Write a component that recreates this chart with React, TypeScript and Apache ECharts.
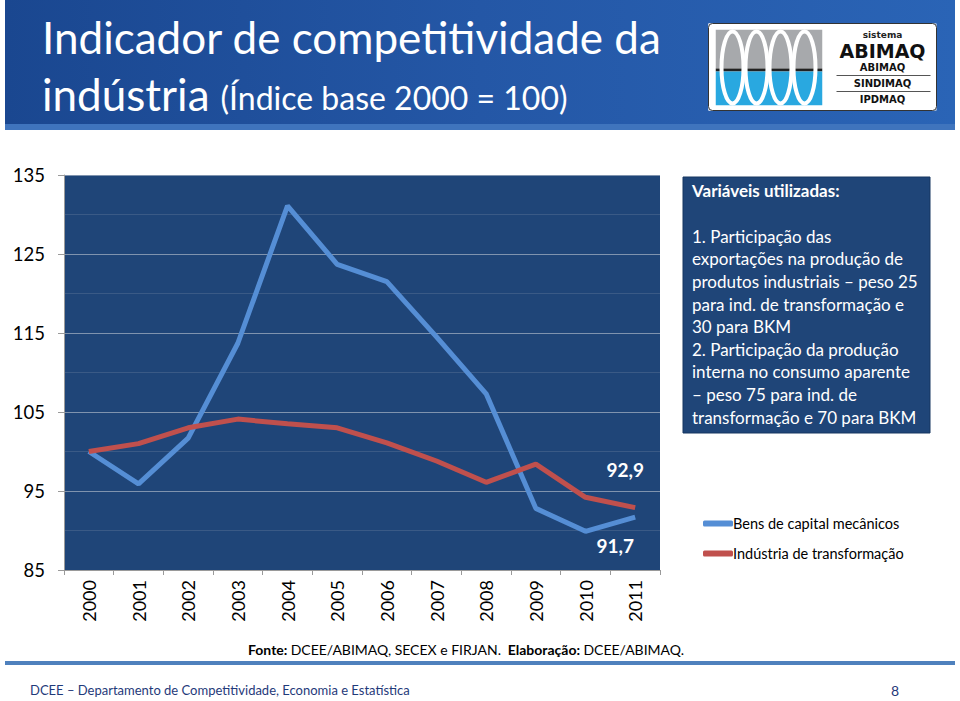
import React, { useEffect, useRef } from "react";
import * as echarts from "echarts";

const years = ["2000","2001","2002","2003","2004","2005","2006","2007","2008","2009","2010","2011"];
const bensCapital = [100, 95.9, 101.7, 113.7, 131.1, 123.7, 121.5, 114.5, 107.3, 92.8, 89.9, 91.7];
const industria = [100, 101, 103, 104.1, 103.5, 103, 101.1, 98.8, 96.1, 98.4, 94.2, 92.9];
const seriesNames = ["Bens de capital mecânicos", "Indústria de transformação"];
const endLabels = ["91,7", "92,9"];
const yTicks = [85, 95, 105, 115, 125, 135];
const boxLines = [
  "1. Participação das",
  "exportações na produção de",
  "produtos industriais – peso 25",
  "para ind. de transformação e",
  "30 para BKM",
  "2. Participação da produção",
  "interna no consumo aparente",
  "– peso 75 para ind. de",
  "transformação e 70 para BKM",
];

const FONT = "Lato, 'Open Sans', sans-serif";
const LOGO_FONT = "'DejaVu Sans', sans-serif";

export default function App() {
  const ref = useRef<HTMLDivElement>(null);
  useEffect(() => {
    document.body.style.margin = "0";
    const chart = echarts.init(ref.current!, null, { renderer: "svg" });
    const last = years.length - 1;
    const endLabelStyle = { color: "#fff", fontSize: 19, fontWeight: "bold", fontFamily: FONT };
    const option: any = {
      animation: false,
      backgroundColor: "#ffffff",
      textStyle: { fontFamily: FONT },
      grid: {
        left: 64, right: 300, top: 175, bottom: 131,
        show: true, backgroundColor: "#1F4578", borderWidth: 0,
      },
      legend: {
        orient: "vertical",
        left: 698, top: 511,
        itemWidth: 30, itemHeight: 6, itemGap: 15,
        icon: "roundRect",
        textStyle: { color: "#000", fontSize: 14.5, fontFamily: FONT, padding: [0, 0, 0, -5] },
        data: seriesNames,
      },
      xAxis: {
        type: "category",
        data: years,
        boundaryGap: true,
        axisLine: { lineStyle: { color: "#9a9a9a", width: 1 } },
        axisTick: { show: true, interval: 0, length: 5, lineStyle: { color: "#9a9a9a" } },
        axisLabel: { rotate: 90, color: "#000", fontSize: 18, margin: 10, interval: 0, fontFamily: FONT },
      },
      yAxis: {
        type: "value",
        min: 85, max: 135, interval: 10,
        axisLine: { show: true, lineStyle: { color: "#9a9a9a" } },
        axisTick: { show: true, length: 6, lineStyle: { color: "#9a9a9a" } },
        axisLabel: { color: "#000", fontSize: 18.5, margin: 19, fontFamily: FONT,
          formatter: (v: number) => (yTicks.includes(v) ? String(v) : "") },
        splitLine: { show: true, lineStyle: { color: "#7f93ae", width: 1 } },
        minorTick: { show: false, splitNumber: 2 },
        minorSplitLine: { show: true, lineStyle: { color: "#3a5a86", width: 1 } },
      },
      series: [
        {
          name: seriesNames[0],
          type: "line",
          data: bensCapital,
          showSymbol: false, symbol: "none",
          lineStyle: { color: "#558ED5", width: 5 },
          itemStyle: { color: "#558ED5" },
          z: 3,
          markPoint: {
            symbol: "circle", symbolSize: 1,
            itemStyle: { color: "rgba(0,0,0,0)" },
            label: { show: true, formatter: endLabels[0], position: "bottom", offset: [-20, 13], ...endLabelStyle },
            data: [{ coord: [years[last], bensCapital[last]] }],
          },
        },
        {
          name: seriesNames[1],
          type: "line",
          data: industria,
          showSymbol: false, symbol: "none",
          lineStyle: { color: "#C0504D", width: 5 },
          itemStyle: { color: "#C0504D" },
          z: 4,
          markPoint: {
            symbol: "circle", symbolSize: 1,
            itemStyle: { color: "rgba(0,0,0,0)" },
            label: { show: true, formatter: endLabels[1], position: "top", offset: [-10, -23], ...endLabelStyle },
            data: [{ coord: [years[last], industria[last]] }],
          },
        },
      ],
      graphic: [
        // header banner
        {
          type: "rect", z: -1,
          shape: { x: 5, y: 0, width: 950, height: 130 },
          style: {
            fill: new echarts.graphic.LinearGradient(0, 0, 1, 0, [
              { offset: 0, color: "#1a4790" },
              { offset: 0.5, color: "#2457a6" },
              { offset: 1, color: "#2a64b6" },
            ]),
          },
        },
        {
          type: "rect", z: -1,
          shape: { x: 5, y: 124, width: 950, height: 6 },
          style: { fill: "#3f74bd" },
        },
        {
          type: "text", left: 42, top: 15,
          style: { text: "Indicador de competitividade da", fill: "#fff", fontSize: 44, fontFamily: FONT },
        },
        {
          type: "text", left: 42, top: 72,
          style: {
            text: "{a|indústria}{b|(Índice base 2000 = 100)}",
            rich: {
              a: { fill: "#fff", fontSize: 44, fontFamily: FONT },
              b: { fill: "#fff", fontSize: 32, fontFamily: FONT, padding: [6, 0, 0, 11] },
            },
          },
        },
        // logo
        {
          type: "group", left: 706, top: 21,
          children: [
            { type: "rect", shape: { x: 0, y: 0, width: 228, height: 87, r: 4 }, style: { fill: "#fff" } },
            { type: "rect", shape: { x: 7, y: 6, width: 107, height: 39 }, style: { fill: "#a7a9ac" } },
            { type: "rect", shape: { x: 7, y: 45, width: 107, height: 3 }, style: { fill: "#222" } },
            { type: "rect", shape: { x: 7, y: 48, width: 107, height: 34 }, style: { fill: "#29a8e0" } },
            { type: "ellipse", shape: { cx: 24, cy: 44, rx: 11, ry: 36 }, style: { fill: "none", stroke: "#fff", lineWidth: 4 } },
            { type: "ellipse", shape: { cx: 48, cy: 44, rx: 11, ry: 36 }, style: { fill: "none", stroke: "#fff", lineWidth: 4 } },
            { type: "ellipse", shape: { cx: 72, cy: 44, rx: 11, ry: 36 }, style: { fill: "none", stroke: "#fff", lineWidth: 4 } },
            { type: "ellipse", shape: { cx: 96, cy: 44, rx: 11, ry: 36 }, style: { fill: "none", stroke: "#fff", lineWidth: 4 } },
            { type: "rect", shape: { x: 0, y: 0, width: 228, height: 6 }, style: { fill: "#fff" } },
            { type: "rect", shape: { x: 0, y: 82, width: 228, height: 5 }, style: { fill: "#fff" } },
            { type: "rect", shape: { x: 0, y: 0, width: 7, height: 87 }, style: { fill: "#fff" } },
            { type: "rect", shape: { x: 114, y: 0, width: 8, height: 87 }, style: { fill: "#fff" } },
            { type: "rect", shape: { x: 0, y: 0, width: 228, height: 87, r: 4 }, style: { fill: "none", stroke: "#333", lineWidth: 1 } },
            { type: "text", x: 174, y: 11, style: { text: "sistema", fill: "#222", fontSize: 9, fontWeight: "bold", align: "center", verticalAlign: "middle", fontFamily: LOGO_FONT } },
            { type: "text", x: 174, y: 27, style: { text: "ABIMAQ", fill: "#111", fontSize: 19, fontWeight: "bold", align: "center", verticalAlign: "middle", fontFamily: LOGO_FONT } },
            { type: "text", x: 174, y: 44, style: { text: "ABIMAQ", fill: "#111", fontSize: 10, fontWeight: "bold", align: "center", verticalAlign: "middle", fontFamily: LOGO_FONT } },
            { type: "line", shape: { x1: 128, y1: 52, x2: 222, y2: 52 }, style: { stroke: "#555", lineWidth: 1 } },
            { type: "text", x: 174, y: 60, style: { text: "SINDIMAQ", fill: "#111", fontSize: 10, fontWeight: "bold", align: "center", verticalAlign: "middle", fontFamily: LOGO_FONT } },
            { type: "line", shape: { x1: 128, y1: 68, x2: 222, y2: 68 }, style: { stroke: "#555", lineWidth: 1 } },
            { type: "text", x: 174, y: 76, style: { text: "IPDMAQ", fill: "#111", fontSize: 10, fontWeight: "bold", align: "center", verticalAlign: "middle", fontFamily: LOGO_FONT } },
          ],
        },
        // info box
        {
          type: "rect",
          shape: { x: 683, y: 177, width: 247, height: 256 },
          style: { fill: "#1F4578", stroke: "#173660", lineWidth: 1 },
        },
        {
          type: "text", left: 692, top: 182,
          style: { text: "Variáveis utilizadas:", fill: "#fff", fontSize: 17, fontWeight: "bold", fontFamily: FONT },
        },
        {
          type: "text", left: 692, top: 225,
          style: { text: boxLines.join("\n"), fill: "#fff", fontSize: 17, lineHeight: 22.6, fontFamily: FONT },
        },
        // source
        {
          type: "text", left: 248, top: 642,
          style: {
            text: "{b|Fonte:} {n|DCEE/ABIMAQ, SECEX e FIRJAN.}  {b|Elaboração:} {n|DCEE/ABIMAQ.}",
            rich: {
              b: { fill: "#000", fontSize: 14, fontWeight: "bold", fontFamily: FONT },
              n: { fill: "#000", fontSize: 14, fontFamily: FONT },
            },
          },
        },
        // footer
        { type: "rect", shape: { x: 5, y: 661, width: 950, height: 4 }, style: { fill: "#4f81bd" } },
        {
          type: "text", left: 30, top: 683,
          style: { text: "DCEE – Departamento de Competitividade, Economia e Estatística", fill: "#1F3A7A", fontSize: 13, fontFamily: FONT },
        },
        {
          type: "text", left: 891, top: 683,
          style: { text: "8", fill: "#1F3A7A", fontSize: 14, fontFamily: FONT },
        },
      ],
    };
    chart.setOption(option);
    return () => chart.dispose();
  }, []);
  return <div ref={ref} style={{ width: 960, height: 701 }} />;
}
